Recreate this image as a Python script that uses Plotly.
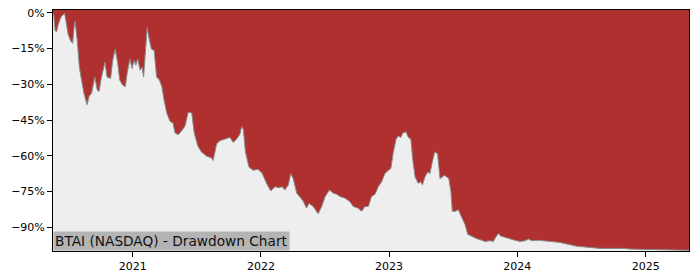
import plotly.graph_objects as go

dates = [
    "2020-05-19", "2020-05-21", "2020-05-25", "2020-05-29", "2020-06-03", "2020-06-10", "2020-06-15",
    "2020-06-21", "2020-06-25", "2020-07-01", "2020-07-08", "2020-07-14", "2020-07-18", "2020-07-21",
    "2020-07-27", "2020-08-02", "2020-08-08", "2020-08-15", "2020-08-24", "2020-08-30", "2020-09-06",
    "2020-09-15", "2020-09-22", "2020-09-27", "2020-10-04", "2020-10-14", "2020-10-20", "2020-10-30",
    "2020-11-05", "2020-11-12", "2020-11-19", "2020-11-25", "2020-12-03", "2020-12-11", "2020-12-16",
    "2020-12-24", "2020-12-30", "2021-01-05", "2021-01-10", "2021-01-15", "2021-01-22", "2021-01-27",
    "2021-02-01", "2021-02-07", "2021-02-11", "2021-02-16", "2021-02-23", "2021-03-03", "2021-03-10",
    "2021-03-18", "2021-03-25", "2021-03-31", "2021-04-08", "2021-04-17", "2021-04-26", "2021-05-01",
    "2021-05-10", "2021-05-20", "2021-05-30", "2021-06-08", "2021-06-18", "2021-06-25", "2021-07-05",
    "2021-07-16", "2021-07-31", "2021-08-14", "2021-08-18", "2021-08-28", "2021-09-06", "2021-09-21",
    "2021-10-05", "2021-10-14", "2021-10-24", "2021-11-02", "2021-11-07", "2021-11-12", "2021-11-18",
    "2021-11-28", "2021-12-10", "2021-12-24", "2022-01-05", "2022-01-17", "2022-01-29", "2022-02-10",
    "2022-02-21", "2022-03-03", "2022-03-10", "2022-03-20", "2022-03-27", "2022-04-03", "2022-04-13",
    "2022-04-25", "2022-05-02", "2022-05-11", "2022-05-18", "2022-05-30", "2022-06-13", "2022-06-23",
    "2022-07-03", "2022-07-15", "2022-07-26", "2022-08-05", "2022-08-14", "2022-08-28", "2022-09-11",
    "2022-09-21", "2022-10-05", "2022-10-15", "2022-10-24", "2022-11-03", "2022-11-12", "2022-11-22",
    "2022-12-01", "2022-12-11", "2022-12-20", "2022-12-30", "2023-01-06", "2023-01-13", "2023-01-21",
    "2023-01-27", "2023-02-03", "2023-02-10", "2023-02-18", "2023-02-25", "2023-03-04", "2023-03-09",
    "2023-03-16", "2023-03-25", "2023-04-01", "2023-04-06", "2023-04-13", "2023-04-21", "2023-04-27",
    "2023-05-04", "2023-05-11", "2023-05-19", "2023-05-26", "2023-06-02", "2023-06-07", "2023-06-14",
    "2023-06-20", "2023-06-26", "2023-06-30", "2023-07-10", "2023-07-17", "2023-07-27", "2023-08-05",
    "2023-08-13", "2023-08-24", "2023-09-07", "2023-09-22", "2023-10-01", "2023-10-15", "2023-10-25",
    "2023-10-31", "2023-11-08", "2023-11-15", "2023-11-27", "2023-12-11", "2023-12-25", "2024-01-09",
    "2024-01-23", "2024-02-02", "2024-02-11", "2024-03-01", "2024-03-20", "2024-04-17", "2024-05-02",
    "2024-06-18", "2024-07-26", "2024-08-24", "2024-10-30", "2024-11-17", "2025-01-13", "2025-03-11",
    "2025-05-04",
]

drawdown = [
    0.0, -0.7, -7.4, -8.0, -4.8, -2.0, -1.0,
    -0.3, -3.4, -9.0, -11.7, -12.8, -6.0, -3.5,
    -11.7, -22.7, -28.0, -33.7, -38.6, -35.0, -33.7,
    -26.9, -32.4, -33.0, -27.0, -20.7, -27.0, -27.5,
    -20.0, -15.2, -20.7, -28.2, -30.3, -31.0, -25.5,
    -19.3, -23.4, -20.0, -22.0, -19.3, -24.1, -22.7,
    -26.9, -11.7, -6.2, -10.3, -15.2, -15.8, -26.9,
    -28.2, -31.0, -36.5, -42.0, -45.5, -46.4, -50.3,
    -51.2, -49.6, -47.5, -41.7, -42.0, -50.3, -55.8,
    -58.5, -60.2, -61.0, -62.0, -55.0, -53.7, -53.0,
    -52.3, -54.4, -53.0, -51.0, -47.8, -48.9, -58.5,
    -64.7, -66.1, -65.7, -67.5, -71.6, -74.8, -73.0,
    -73.4, -73.0, -74.4, -72.3, -67.5, -69.6, -75.7,
    -77.8, -79.2, -82.0, -80.0, -81.3, -84.4, -81.3,
    -77.1, -74.4, -75.7, -76.2, -77.1, -77.8, -79.2,
    -81.3, -82.0, -83.3, -81.3, -81.3, -77.1, -76.2,
    -73.0, -70.9, -67.5, -66.1, -65.4, -58.5, -53.0,
    -51.7, -52.3, -50.3, -50.0, -52.3, -53.0, -61.3,
    -68.9, -71.6, -70.9, -72.3, -68.9, -66.8, -67.5,
    -62.7, -58.3, -59.2, -69.6, -68.9, -68.2, -68.9,
    -69.6, -75.0, -83.3, -83.3, -82.6, -86.0, -88.8,
    -93.0, -93.9, -94.8, -95.5, -96.0, -95.7, -96.0,
    -94.3, -92.7, -93.7, -94.3, -95.0, -95.5, -96.0,
    -95.7, -95.0, -95.7, -95.5, -95.7, -96.0, -96.4,
    -98.0, -98.5, -98.9, -98.9, -99.2, -99.4, -99.6,
    -99.7,
]

y_tick_vals = [0, -15, -30, -45, -60, -75, -90]
y_tick_text = ["0%", "−15%", "−30%", "−45%", "−60%", "−75%", "−90%"]
x_tick_vals = ["2021-01-01", "2022-01-01", "2023-01-01", "2024-01-01", "2025-01-01"]
x_tick_text = ["2021", "2022", "2023", "2024", "2025"]

title_text = "BTAI (NASDAQ) - Drawdown Chart"

RED = "#b03030"
GREY_FILL = "#eeeeee"
Y_MIN = -100

fig = go.Figure()
# baseline at the bottom of the axis
fig.add_trace(go.Scatter(
    x=dates, y=[Y_MIN] * len(dates), mode="lines",
    line=dict(width=0, color=GREY_FILL), hoverinfo="skip", showlegend=False,
))
fig.add_trace(go.Scatter(
    x=dates, y=drawdown, mode="lines", fill="tonexty", fillcolor=GREY_FILL,
    line=dict(color="#8a8a8a", width=1), showlegend=False,
))

fig.add_annotation(
    x=0, y=0, xref="paper", yref="paper", xanchor="left", yanchor="bottom",
    text=title_text, showarrow=False, bgcolor="#b4b4b4", borderpad=1,
    font=dict(family="DejaVu Sans", size=13.7, color="#111111"),
)

axis_common = dict(
    showline=True, linecolor="black", linewidth=1, mirror=True,
    ticks="outside", ticklen=5, tickwidth=1, tickcolor="black",
    showgrid=False, zeroline=False,
    tickfont=dict(family="DejaVu Sans", size=11, color="black"),
)

fig.update_layout(
    width=700, height=280,
    margin=dict(l=53, r=11, t=7, b=28),
    paper_bgcolor="white", plot_bgcolor=RED,
    xaxis=dict(range=["2020-05-19", "2025-05-04"], tickvals=x_tick_vals, ticktext=x_tick_text,
               **axis_common),
    yaxis=dict(range=[Y_MIN, 1.2], tickvals=y_tick_vals, ticktext=y_tick_text, **axis_common),
)

fig.write_html("out.html")
